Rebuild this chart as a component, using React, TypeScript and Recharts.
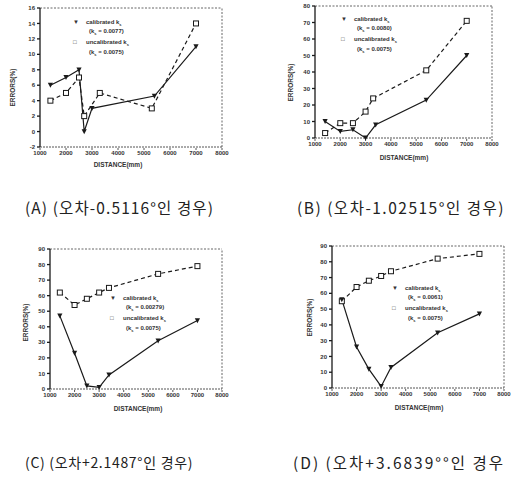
import React from "react";
import { LineChart, Line, XAxis, YAxis, ReferenceLine } from "recharts";

// ---- data ----
const distTicks = [1000, 2000, 3000, 4000, 5000, 6000, 7000, 8000];

const aCalDist = [1400, 2000, 2500, 2700, 3000, 5400, 7000];
const aCalVal = [6, 7, 8, 0, 3, 4.6, 11];
const aUncDist = [1400, 2000, 2500, 2700, 3300, 5300, 7000];
const aUncVal = [4, 5, 7, 2, 5, 3, 14];
const aYTicks = [-2, 0, 2, 4, 6, 8, 10, 12, 14, 16];

const bCalDist = [1400, 2000, 2500, 3000, 3400, 5400, 7000];
const bCalVal = [10, 4, 5, 0, 8, 23, 50];
const bUncDist = [1400, 2000, 2500, 3000, 3300, 5400, 7000];
const bUncVal = [3, 9, 9, 16, 24, 41, 71];
const bYTicks = [0, 10, 20, 30, 40, 50, 60, 70, 80];

const cDist = [1400, 2000, 2500, 3000, 3400, 5400, 7000];
const cCalVal = [47, 23, 2, 1, 9, 31, 44];
const cUncVal = [62, 54, 58, 62, 65, 74, 79];
const cYTicks = [0, 10, 20, 30, 40, 50, 60, 70, 80, 90];

const dDist = [1400, 2000, 2500, 3000, 3400, 5300, 7000];
const dCalVal = [56, 26, 12, 1, 13, 35, 47];
const dUncVal = [55, 64, 68, 71, 74, 82, 85];
const dYTicks = [0, 10, 20, 30, 40, 50, 60, 70, 80, 90];

const captions = [
  "(A) (오차-0.5116°인 경우)",
  "(B) (오차-1.02515°인 경우)",
  "(C) (오차+2.1487°인 경우)",
  "(D) (오차+3.6839°°인 경우",
];
const calK = ["0.0077", "0.0080", "0.00279", "0.0061"];
const uncK = ["0.0075", "0.0075", "0.0075", "0.0075"];

const zip = (xs: number[], ys: number[]) => xs.map((d, i) => ({ d, v: ys[i] }));

const INK = "#1a1a1a";

const Tri = (p: any) => {
  const { cx, cy, index } = p;
  if (cx == null || cy == null) return <g key={index} />;
  return (
    <path
      key={index}
      d={`M${cx - 2.6},${cy - 2.4} L${cx + 2.6},${cy - 2.4} L${cx},${cy + 2.6} Z`}
      fill={INK}
    />
  );
};
const Sq = (p: any) => {
  const { cx, cy, index } = p;
  if (cx == null || cy == null) return <g key={index} />;
  return (
    <rect key={index} x={cx - 2.5} y={cy - 2.5} width={5} height={5} fill="#fff" stroke={INK} strokeWidth={1} />
  );
};

const tickStyle = { fontSize: 6, fontFamily: "Liberation Sans", fontWeight: 700, fill: "#333" };

type PanelProps = {
  left: number; top: number; width: number; height: number;
  margin: { top: number; right: number; bottom: number; left: number };
  yDomain: [number, number]; yTicks: number[];
  cal: { d: number; v: number }[]; unc: { d: number; v: number }[];
};

const Panel = ({ left, top, width, height, margin, yDomain, yTicks, cal, unc }: PanelProps) => (
  <div style={{ position: "absolute", left, top, width, height }}>
    <LineChart width={width} height={height} margin={margin}>
      <XAxis
        dataKey="d" type="number" domain={[1000, 8000]} ticks={distTicks}
        allowDataOverflow height={12} tickSize={3} tickMargin={1}
        tick={tickStyle} stroke="#555" strokeDasharray="2 1"
        tickFormatter={(v: number) => String(v)} interval={0}
      />
      <YAxis
        type="number" domain={yDomain} ticks={yTicks} width={24} tickSize={3} tickMargin={2}
        tick={tickStyle} stroke={INK} strokeWidth={1.3} interval={0}
      />
      <ReferenceLine y={yDomain[1]} stroke="#666" strokeDasharray="2 1.5" />
      <ReferenceLine x={8000} stroke="#666" strokeDasharray="2 1.5" />
      <Line data={unc} dataKey="v" stroke={INK} strokeWidth={1.2} strokeDasharray="4 3"
        dot={Sq} isAnimationActive={false} />
      <Line data={cal} dataKey="v" stroke={INK} strokeWidth={1.2}
        dot={Tri} isAnimationActive={false} />
    </LineChart>
  </div>
);

const small: React.CSSProperties = {
  position: "absolute", fontFamily: "Liberation Sans", fontWeight: 700, fontSize: 6,
  color: "#333", whiteSpace: "nowrap", lineHeight: "7px",
};

const Legend = ({ x, y, i }: { x: number; y: number; i: number }) => (
  <div style={{ ...small, left: x, top: y }}>
    <div><span style={{ display: "inline-block", width: 13 }}>▼</span>calibrated k<sub style={{ fontSize: 4 }}>s</sub></div>
    <div style={{ paddingLeft: 16 }}>(k<sub style={{ fontSize: 4 }}>s</sub> = {calK[i]})</div>
    <div style={{ marginTop: 2 }}><span style={{ display: "inline-block", width: 13 }}>□</span>uncalibrated k<sub style={{ fontSize: 4 }}>s</sub></div>
    <div style={{ paddingLeft: 16 }}>(k<sub style={{ fontSize: 4 }}>s</sub> = {uncK[i]})</div>
  </div>
);

const XTitle = ({ cx, y }: { cx: number; y: number }) => (
  <div style={{ ...small, left: cx - 40, width: 80, textAlign: "center", top: y, fontSize: 6.5 }}>DISTANCE(mm)</div>
);
const YTitle = ({ x, cy }: { x: number; cy: number }) => (
  <div style={{ ...small, left: x - 30, top: cy - 4, width: 60, textAlign: "center", transform: "rotate(-90deg)", fontSize: 6.5 }}>ERRORS(%)</div>
);

const Caption = ({ x, y, t, size, ls }: { x: number; y: number; t: string; size: number; ls: number }) => (
  <div style={{ position: "absolute", left: x, top: y, fontFamily: "Noto Sans CJK KR", fontSize: size, letterSpacing: ls, color: "#222", whiteSpace: "nowrap", lineHeight: "18px" }}>{t}</div>
);

export default function App() {
  return (
    <div style={{ position: "absolute", left: 0, top: 0, width: 514, height: 483, background: "#fff", overflow: "hidden" }}>
      <Panel left={0} top={0} width={240} height={175}
        margin={{ top: 8, right: 18, bottom: 16, left: 16 }}
        yDomain={[-2, 16]} yTicks={aYTicks} cal={zip(aCalDist, aCalVal)} unc={zip(aUncDist, aUncVal)} />
      <Panel left={257} top={0} width={257} height={175}
        margin={{ top: 6, right: 22, bottom: 25, left: 34 }}
        yDomain={[0, 80]} yTicks={bYTicks} cal={zip(bCalDist, bCalVal)} unc={zip(bUncDist, bUncVal)} />
      <Panel left={0} top={230} width={240} height={185}
        margin={{ top: 19, right: 18, bottom: 14, left: 26 }}
        yDomain={[0, 90]} yTicks={cYTicks} cal={zip(cDist, cCalVal)} unc={zip(cDist, cUncVal)} />
      <Panel left={257} top={230} width={257} height={185}
        margin={{ top: 16, right: 10, bottom: 15, left: 51 }}
        yDomain={[0, 90]} yTicks={dYTicks} cal={zip(dDist, dCalVal)} unc={zip(dDist, dUncVal)} />

      <Legend x={73} y={19} i={0} />
      <Legend x={341} y={16} i={1} />
      <Legend x={110} y={295} i={2} />
      <Legend x={392} y={285} i={3} />

      <XTitle cx={118} y={161} />
      <XTitle cx={404} y={154} />
      <XTitle cx={138} y={405} />
      <XTitle cx={419} y={404} />

      <YTitle x={12} cy={88} />
      <YTitle x={290} cy={83} />
      <YTitle x={25} cy={323} />
      <YTitle x={309} cy={318} />

      <Caption x={25} y={198} t={captions[0]} size={15.5} ls={1.1} />
      <Caption x={297} y={198} t={captions[1]} size={15.5} ls={1.5} />
      <Caption x={25} y={453} t={captions[2]} size={14} ls={0.7} />
      <Caption x={293} y={453} t={captions[3]} size={15.5} ls={2} />
    </div>
  );
}
